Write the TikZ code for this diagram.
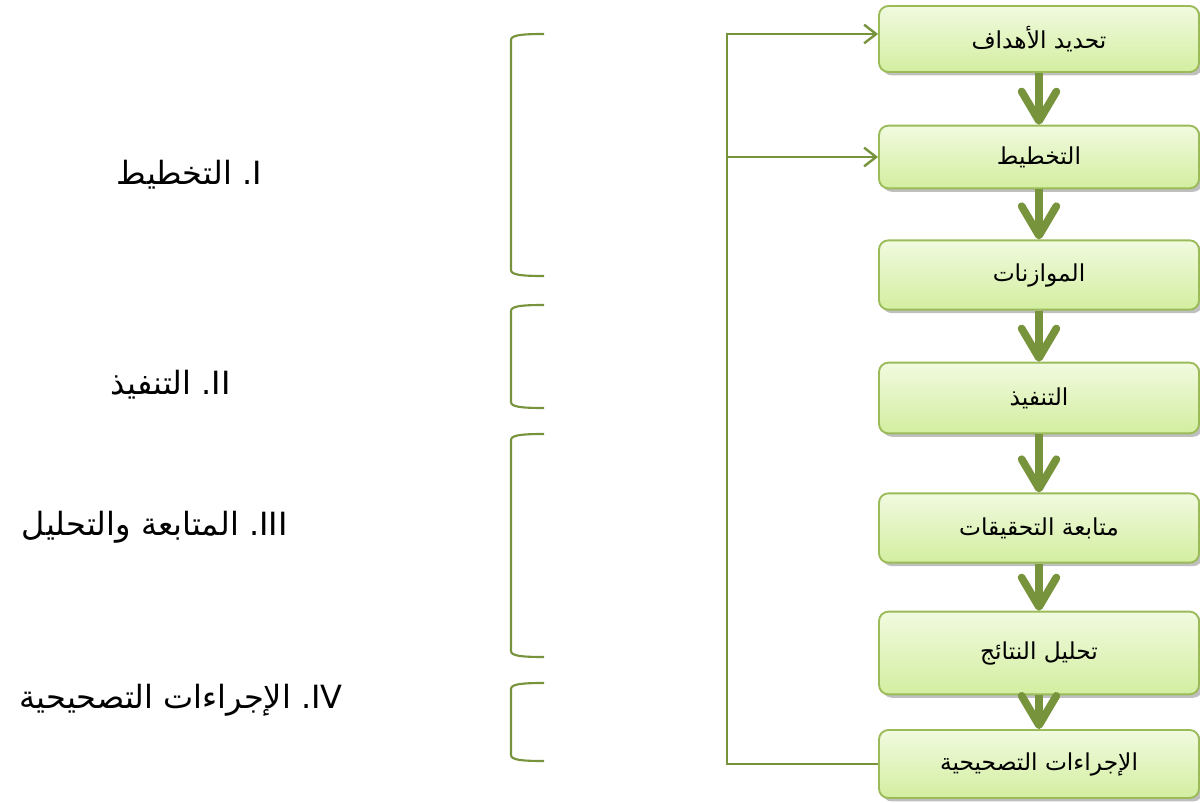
\documentclass[tikz,border=0pt]{standalone}
\usepackage{fontspec}
\usetikzlibrary{arrows.meta,shadows}
\TeXXeTstate=1
\newfontfamily\arabicfont[Script=Arabic]{DejaVu Sans}
\definecolor{oliveD}{HTML}{77933C}
\definecolor{boxBorder}{HTML}{9BBB59}
\definecolor{boxTop}{HTML}{F1FADF}
\definecolor{boxBot}{HTML}{D3EEA0}
\begin{document}
\begin{tikzpicture}[x=0.75pt,y=-0.75pt,
  box/.style={draw=boxBorder, line width=1.4pt, rounded corners=7pt,
    top color=boxTop, bottom color=boxBot, minimum width=240pt, inner sep=0pt,
    drop shadow={shadow xshift=2.6pt,shadow yshift=-2.6pt,fill=black!50},
    font=\arabicfont\fontsize{17.5}{20}\selectfont},
  flow/.style={draw=oliveD, line width=5.8pt,
    -{Straight Barb[length=22pt,width=26pt,line cap=round,line join=round]}},
  fb/.style={draw=oliveD, line width=1.8pt},
  fbarrow/.style={fb, -{Straight Barb[length=9pt,width=14pt]}},
  brace/.style={draw=oliveD, line width=1.6pt},
  lbl/.style={anchor=east, inner sep=0pt, font=\arabicfont\fontsize{24}{28}\selectfont}
]
\useasboundingbox (0,0) rectangle (1200,803);

% boxes
\node[box, minimum height=49.5pt] (b1) at (1039,39) {\beginR تحديد الأهداف\endR};
\node[box, minimum height=47pt]   (b2) at (1039,157) {\beginR التخطيط\endR};
\node[box, minimum height=52pt]   (b3) at (1039,275) {\beginR الموازنات\endR};
\node[box, minimum height=53pt]   (b4) at (1039,398) {\beginR التنفيذ\endR};
\node[box, minimum height=52pt]   (b5) at (1039,528) {\beginR متابعة التحقيقات\endR};
\node[box, minimum height=62pt]   (b6) at (1039,653) {\beginR تحليل النتائج\endR};
\node[box, minimum height=51pt]   (b7) at (1039,764) {\beginR الإجراءات التصحيحية\endR};

% main arrows
\draw[flow] (b1.south) -- (b2.north);
\draw[flow] (b2.south) -- (b3.north);
\draw[flow] (b3.south) -- (b4.north);
\draw[flow] (b4.south) -- (b5.north);
\draw[flow] (b5.south) -- (b6.north);
\draw[flow] (b6.south) -- (b7.north);

% feedback
\coordinate (ftop) at (727,34);
\coordinate (fmid) at (727,157);
\draw[fbarrow] (b7.west) -| (ftop) -- (ftop -| b1.west);
\draw[fbarrow] (fmid) -- (b2.west);

% brackets
\draw[brace] (544,34) .. controls (522,34) and (511,35) .. (511,40) -- (511,270) .. controls (511,275) and (522,276) .. (544,276);
\draw[brace] (544,305) .. controls (522,305) and (511,306) .. (511,311) -- (511,402) .. controls (511,407) and (522,408) .. (544,408);
\draw[brace] (544,434) .. controls (522,434) and (511,435) .. (511,440) -- (511,651) .. controls (511,656) and (522,657) .. (544,657);
\draw[brace] (544,683) .. controls (522,683) and (511,684) .. (511,689) -- (511,755) .. controls (511,760) and (522,761) .. (544,761);

% labels
\node[lbl] (l1) at (262,175) {\beginR التخطيط\endR\ .I};
\node[lbl] (l2) at (231,385) {\beginR التنفيذ\endR\ .II};
\node[lbl] (l3) at (288,527) {\beginR المتابعة والتحليل\endR\ .III};
\node[lbl] (l4) at (343,700) {\beginR الإجراءات التصحيحية\endR\ .IV};
\end{tikzpicture}
\end{document}
